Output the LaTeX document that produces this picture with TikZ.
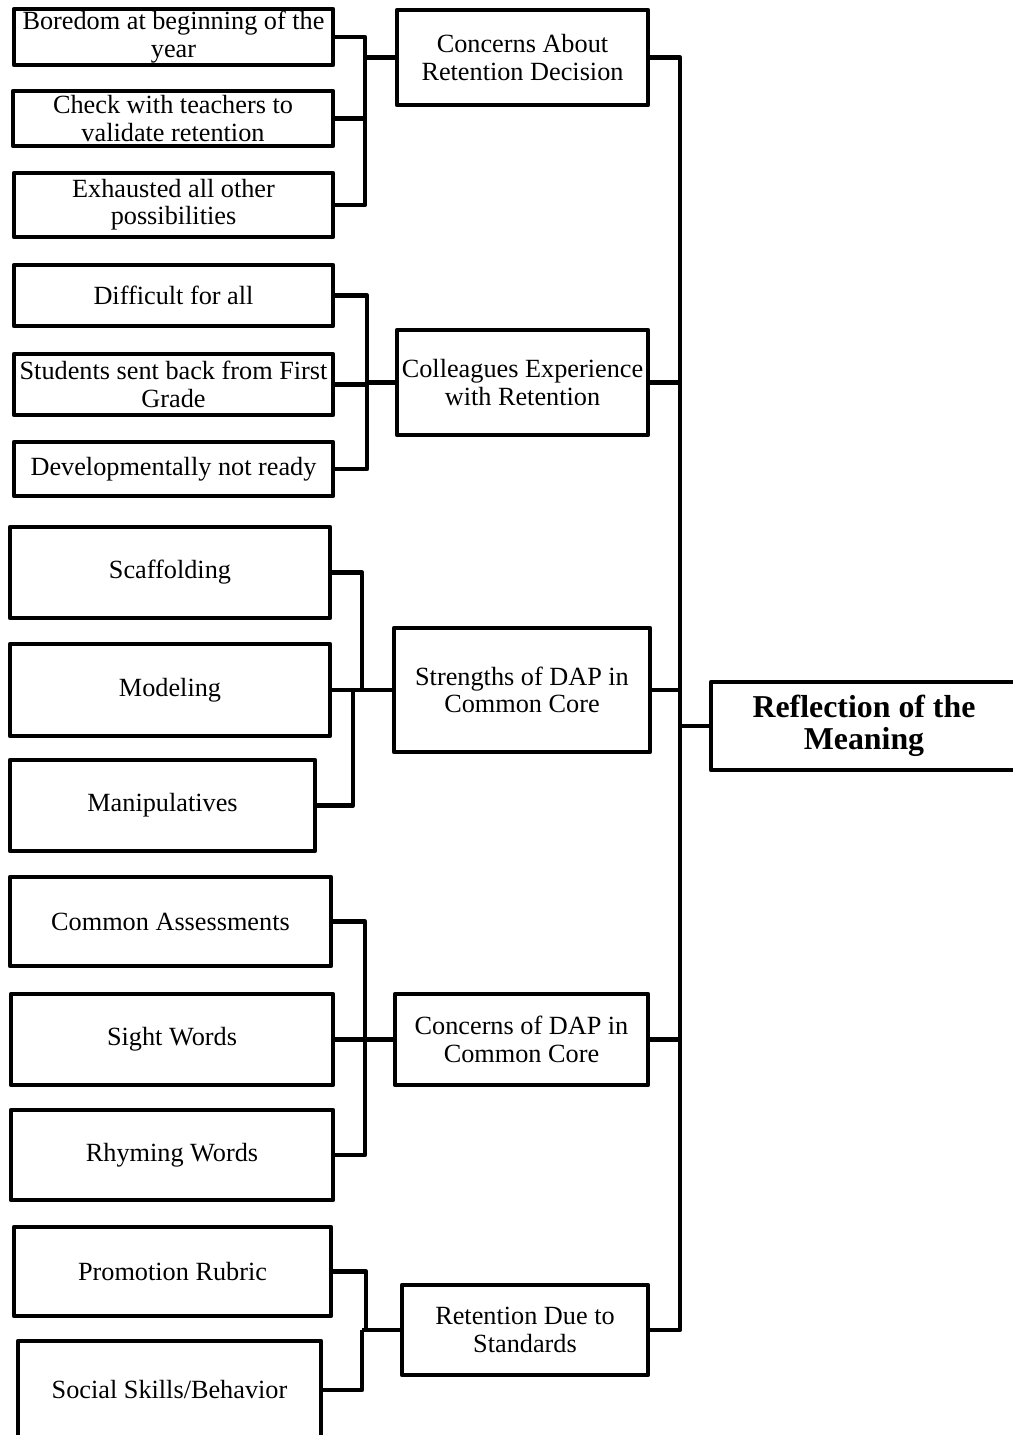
\documentclass[tikz,border=0pt]{standalone}
\usepackage{fontspec}
\setmainfont{Liberation Serif}

\begin{document}
\begin{tikzpicture}[x=0.017cm, y=-0.017cm, line width=2.2pt, line join=round,
  box/.style={draw, rectangle, align=center, inner sep=1pt, font=\fontsize{12.7}{13.2}\selectfont},
  sz/.style 2 args={minimum width=#1*0.017cm, minimum height=#2*0.017cm}]
  \useasboundingbox (0,0) rectangle (1012,1435);

  % retention decision
  \node[box, sz={319}{56}] (b1) at (173.5,37) {Boredom at beginning of the\\year};
  \node[box, sz={320}{55}] (b2) at (173,118.5) {Check with teachers to\\validate retention};
  \node[box, sz={319}{64}] (b3) at (173.5,205) {Exhausted all other\\possibilities};
  \node[box, sz={251}{95}] (c1) at (522.5,57.5) {Concerns About\\Retention Decision};

  % colleagues
  \node[box, sz={319}{61}] (d1) at (173.5,295.5) {Difficult for all};
  \node[box, sz={319}{61}] (d2) at (173.5,384.5) {Students sent back from First\\Grade};
  \node[box, sz={319}{54}] (d3) at (173.5,469) {Developmentally not ready};
  \node[box, sz={251}{105}] (c2) at (522.5,382.5) {Colleagues Experience\\with Retention};

  % strengths
  \node[box, sz={320}{91}] (s1) at (170,572.5) {Scaffolding};
  \node[box, sz={320}{92}] (s2) at (170,690) {Modeling};
  \node[box, sz={305}{91}] (s3) at (162.5,805.5) {Manipulatives};
  \node[box, sz={256}{124}] (c3) at (522,690) {Strengths of DAP in\\Common Core};

  % concerns
  \node[box, sz={321}{89}] (k1) at (170.5,921.5) {Common Assessments};
  \node[box, sz={322}{91}] (k2) at (172,1039.5) {Sight Words};
  \node[box, sz={322}{90}] (k3) at (172,1155) {Rhyming Words};
  \node[box, sz={253}{91}] (c4) at (521.5,1039.5) {Concerns of DAP in\\Common Core};

  % standards
  \node[box, sz={317}{89}] (r1) at (172.5,1271.5) {Promotion Rubric};
  \node[box, sz={303}{98}] (r2) at (169.5,1390) {Social Skills/Behavior};
  \node[box, sz={246}{90}] (c5) at (525,1330) {Retention Due to\\Standards};

  \node[box, sz={306}{88}, font=\bfseries\fontsize{15.4}{15.5}\selectfont] (root) at (864,726) {Reflection of the\\Meaning};

  % brackets
  \coordinate (j1) at (365,57.5);
  \coordinate (j2) at (367,382.5);
  \coordinate (j3) at (362,690);
  \coordinate (j3b) at (353,690);
  \coordinate (j4) at (365,1039.5);
  \coordinate (j5) at (366,1330);
  \coordinate (j5b) at (362,1330);
  \coordinate (m) at (680,726);

  \foreach \n in {b1,b2,b3} \draw (\n.east) -| (j1);
  \foreach \n in {d1,d2,d3} \draw (\n.east) -| (j2);
  \foreach \n in {s1,s2} \draw (\n.east) -| (j3);
  \draw (s3.east) -| (j3b);
  \foreach \n in {k1,k2,k3} \draw (\n.east) -| (j4);
  \draw (r1.east) -| (j5);
  \draw (r2.east) -| (j5b);

  \draw (j1) -- (c1.west);
  \draw (j2) -- (c2.west);
  \draw (j3) -- (c3.west);
  \draw (j4) -- (c4.west);
  \draw (j5b) -- (c5.west);

  \foreach \n in {c1,c2,c3,c4,c5} \draw (\n.east) -| (m);
  \draw (m) -- (root.west);
\end{tikzpicture}
\end{document}
